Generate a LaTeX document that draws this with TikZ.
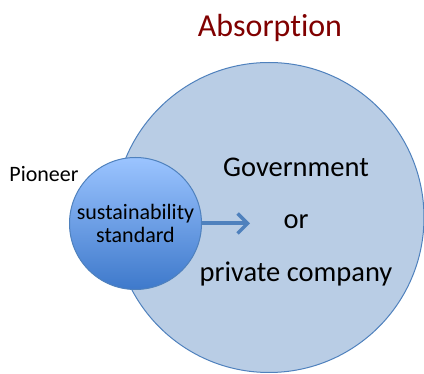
\documentclass[tikz,border=0pt]{standalone}
\usepackage{fontspec}
\setmainfont{Carlito}[Ligatures=NoCommon]
\usepackage{tikz}
\usetikzlibrary{arrows.meta}
\usepackage{xcolor}
\definecolor{ColBorder}{RGB}{79,129,189}
\definecolor{ColBig}{RGB}{185,205,229}
\definecolor{ColTop}{RGB}{155,196,255}
\definecolor{ColBottom}{RGB}{62,121,203}
\definecolor{ColTitle}{RGB}{128,0,0}
\tikzstyle{BigCircle}=[circle,draw=ColBorder,fill=ColBig,line width=1pt,
minimum size=310pt,inner sep=0pt]
\tikzstyle{SmallCircle}=[circle,draw=ColBorder,top color=ColTop,bottom color=ColBottom,
line width=1pt,minimum size=132pt,inner sep=0pt,align=center,
font=\fontsize{22}{23.5}\selectfont]
\tikzstyle{InnerText}=[align=center,font=\fontsize{28.5}{52.5}\selectfont]
\tikzstyle{ArrowAbs}=[ColBorder,line width=4pt,
-{Straight Barb[length=10pt,width=20pt,line width=3.5pt]}]

\begin{document}
\begin{tikzpicture}[x=1pt,y=-1pt]
        \useasboundingbox(0,0)rectangle(424,374);
        \node[BigCircle](org)at(269,217.5){};
        \node[SmallCircle](std)at(135.5,223.5){sustainability\\standard};
        \node[anchor=base,font=\fontsize{32}{36}\selectfont,text=ColTitle](title)at(270,37){Absorption};
        \node[anchor=base,font=\fontsize{22}{24}\selectfont](pio)at(44,182){Pioneer};
        \node[InnerText](inner)at(296,222){Government\\or\\private company};
        \coordinate(tip)at(250,223.5);
        \draw[ArrowAbs](std.east)--(tip);
    \end{tikzpicture}
\end{document}
